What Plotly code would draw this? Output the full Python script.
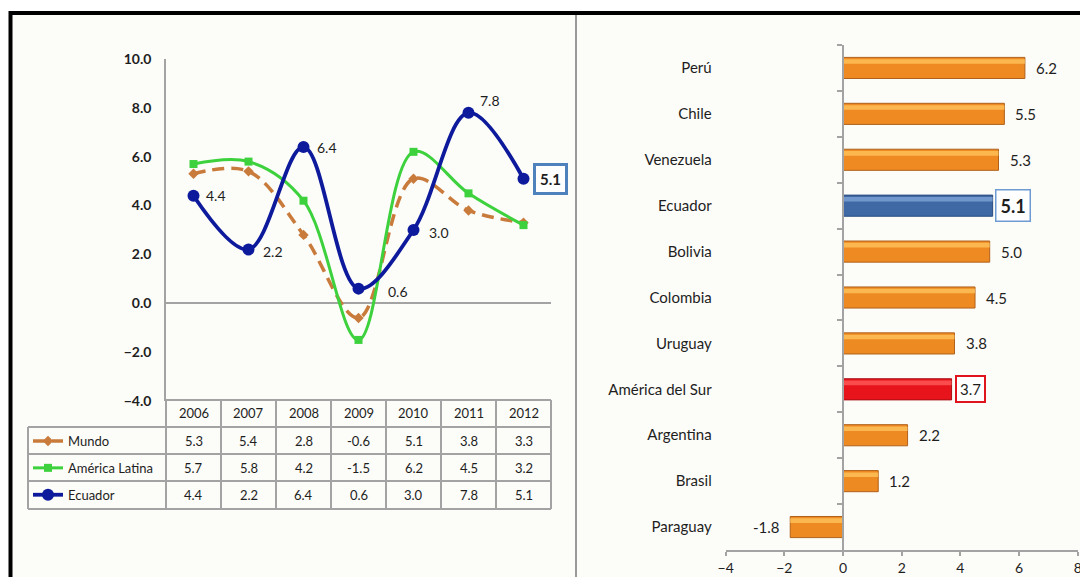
import plotly.graph_objects as go

# ---------------- data ----------------
years = ["2006", "2007", "2008", "2009", "2010", "2011", "2012"]
mundo = [5.3, 5.4, 2.8, -0.6, 5.1, 3.8, 3.3]
america_latina = [5.7, 5.8, 4.2, -1.5, 6.2, 4.5, 3.2]
ecuador = [4.4, 2.2, 6.4, 0.6, 3.0, 7.8, 5.1]
series_names = ["Mundo", "América Latina", "Ecuador"]

countries = ["Perú", "Chile", "Venezuela", "Ecuador", "Bolivia", "Colombia",
             "Uruguay", "América del Sur", "Argentina", "Brasil", "Paraguay"]
growth_2012 = [6.2, 5.5, 5.3, 5.1, 5.0, 4.5, 3.8, 3.7, 2.2, 1.2, -1.8]

left_yticks = [-4, -2, 0, 2, 4, 6, 8, 10]
right_xticks = [-4, -2, 0, 2, 4, 6, 8]

# ---------------- layout helpers ----------------
W, H = 1080, 577
def fx(p):
    return p / W
def fy(p):
    return 1 - p / H

FONT = "Lato, Roboto, Liberation Sans, Arial, sans-serif"
TXT = "#1e1e1e"
GRID = "#a3a3a3"

series_styles = [
    dict(color="#C97B3C", width=3.5, dash="12px,7px", symbol="diamond", size=8),
    dict(color="#3DD23D", width=3, dash="solid", symbol="square", size=8),
    dict(color="#0D1A9C", width=3.8, dash="solid", symbol="circle", size=12),
]
series_values = [mundo, america_latina, ecuador]

fig = go.Figure()

for name, vals, st in zip(series_names, series_values, series_styles):
    fig.add_trace(go.Scatter(
        x=years, y=vals, name=name, mode="lines+markers",
        line=dict(color=st["color"], width=st["width"], dash=st["dash"],
                  shape="spline", smoothing=1.0),
        marker=dict(symbol=st["symbol"], size=st["size"], color=st["color"]),
        xaxis="x", yaxis="y", legendgroup=name, showlegend=True,
        hoverinfo="skip",
    ))

# ---------------- bar chart ----------------
bar_fill = {"Ecuador": "#3F6AA6", "América del Sur": "#E8141C"}
bar_edge = {"Ecuador": "#2B4C7E", "América del Sur": "#A80E12"}
bar_hi = {"Ecuador": "#7FA3D6", "América del Sur": "#FF5A5A"}
fills = [bar_fill.get(c, "#EE8A22") for c in countries]
edges = [bar_edge.get(c, "#B0621C") for c in countries]
his = [bar_hi.get(c, "#FFC35C") for c in countries]

fig.add_trace(go.Bar(
    x=growth_2012, y=countries, orientation="h", xaxis="x2", yaxis="y3",
    marker=dict(color=fills, line=dict(color=edges, width=1)),
    width=0.46, showlegend=False, hoverinfo="skip",
))
fig.add_trace(go.Bar(
    x=growth_2012, y=countries, orientation="h", xaxis="x2", yaxis="y3",
    marker=dict(color=his, line=dict(width=0)), opacity=0.8,
    width=0.1, offset=-0.19, showlegend=False, hoverinfo="skip",
))
# invisible copy carrying the axis drawn at x = 0 (with boundary ticks)
fig.add_trace(go.Bar(
    x=growth_2012, y=countries, orientation="h", xaxis="x2", yaxis="y4",
    marker=dict(color="rgba(0,0,0,0)"), width=0.46,
    showlegend=False, hoverinfo="skip",
))

x2_dom = [fx(725.7), fx(1077.7)]
x2_rng = [right_xticks[0], right_xticks[-1]]
zero_pos = x2_dom[0] + (0 - x2_rng[0]) / (x2_rng[1] - x2_rng[0]) * (x2_dom[1] - x2_dom[0])

annotations = []

# Ecuador labels on line chart
lab_shift = [(10, 0), (12, -2), (11, -1), (27, -3), (13, -2), (9, 12), (9, 0)]
for i, (yr, v) in enumerate(zip(years, ecuador)):
    a = dict(x=i, y=v, xref="x", yref="y", text=f"{v:.1f}", showarrow=False,
             xanchor="left", yanchor="middle", xshift=lab_shift[i][0],
             yshift=lab_shift[i][1], font=dict(family=FONT, size=14, color=TXT))
    if i == len(years) - 1:
        a.update(bordercolor="#4F81BD", borderwidth=3, borderpad=4,
                 bgcolor="#FFFFFF",
                 font=dict(family=FONT, size=15, color=TXT, weight="bold"))
    annotations.append(a)

# bar value labels
for c, v in zip(countries, growth_2012):
    a = dict(x=v, y=c, xref="x2", yref="y3", text=f"{v:.1f}", showarrow=False,
             xanchor="left" if v >= 0 else "right", yanchor="middle",
             xshift=9 if v >= 0 else -8,
             font=dict(family=FONT, size=15, color=TXT))
    if c == "Ecuador":
        a.update(bordercolor="#6F9BD3", borderwidth=1.5, borderpad=4, xshift=2,
                 bgcolor="#FFFFFF",
                 font=dict(family=FONT, size=18, color=TXT, weight="bold"))
    if c == "América del Sur":
        a.update(bordercolor="#E0141C", borderwidth=2, borderpad=3, xshift=3,
                 bgcolor="#FFFFFF", font=dict(family=FONT, size=15, color=TXT))
    annotations.append(a)

# ---------------- data table under the line chart ----------------
tbl_left, tbl_axis, tbl_right = 28, 166, 551
row_edges = [400, 427, 454, 481, 509]
ncol = len(years)
colw = (tbl_right - tbl_axis) / ncol

for i, yr in enumerate(years):
    annotations.append(dict(x=i, y=fy((row_edges[0] + row_edges[1]) / 2), xref="x",
                            yref="paper", yanchor="middle", text=yr, showarrow=False,
                            font=dict(family=FONT, size=13, color=TXT)))
for r, vals in enumerate(series_values):
    yc = fy((row_edges[r + 1] + row_edges[r + 2]) / 2)
    for i, v in enumerate(vals):
        annotations.append(dict(x=i, y=yc, xref="x", yref="paper", yanchor="middle",
                                text=f"{v:.1f}", showarrow=False,
                                font=dict(family=FONT, size=13, color=TXT)))

shapes = []
# page background and frame
shapes.append(dict(type="rect", xref="paper", yref="paper",
                   x0=fx(10.5), x1=fx(1090), y0=fy(590), y1=fy(13),
                   fillcolor="#FCFCF8", line=dict(color="#000000", width=4),
                   layer="below"))
shapes.append(dict(type="line", xref="paper", yref="paper",
                   x0=fx(576), x1=fx(576), y0=fy(15), y1=fy(580),
                   line=dict(color="#9a9a9a", width=2), layer="below"))
# table grid
for k, ry in enumerate(row_edges):
    shapes.append(dict(type="line", xref="paper", yref="paper",
                       x0=fx(tbl_axis if k == 0 else tbl_left), x1=fx(tbl_right),
                       y0=fy(ry), y1=fy(ry), line=dict(color=GRID, width=2)))
shapes.append(dict(type="line", xref="paper", yref="paper",
                   x0=fx(tbl_left), x1=fx(tbl_left), y0=fy(row_edges[1]),
                   y1=fy(row_edges[-1]), line=dict(color=GRID, width=2)))
for j in range(ncol + 1):
    xx = tbl_axis + j * colw
    shapes.append(dict(type="line", xref="paper", yref="paper",
                       x0=fx(xx), x1=fx(xx), y0=fy(row_edges[0]),
                       y1=fy(row_edges[-1]), line=dict(color=GRID, width=2)))

fig.update_layout(
    template="none",
    width=W, height=H, margin=dict(l=0, r=0, t=0, b=0, pad=0, autoexpand=False),
    paper_bgcolor="#FFFFFF", plot_bgcolor="rgba(0,0,0,0)",
    font=dict(family=FONT, color=TXT),
    barmode="overlay",
    showlegend=True,
    legend=dict(x=fx(28), y=fy(426), xanchor="left", yanchor="top",
                bgcolor="rgba(0,0,0,0)", borderwidth=0,
                traceorder="grouped", tracegroupgap=7,
                font=dict(family=FONT, size=13, color=TXT),
                itemclick=False, itemdoubleclick=False),
    xaxis=dict(domain=[fx(tbl_axis), fx(tbl_right)], type="category",
               categoryorder="array", categoryarray=years,
               range=[-0.5, len(years) - 0.5], automargin=False,
               showticklabels=False, showline=False, showgrid=False,
               zeroline=False, ticks="", anchor="y"),
    yaxis=dict(domain=[fy(401), fy(59)], range=[left_yticks[0], left_yticks[-1]],
               tickvals=left_yticks, tickformat=".1f", showgrid=False,
               zeroline=True, zerolinecolor=GRID, zerolinewidth=1.5,
               showline=True, linecolor=GRID, linewidth=1.5, ticks="",
               ticklabelstandoff=10, anchor="x", automargin=False,
               tickfont=dict(family=FONT, size=14, color=TXT, weight="bold")),
    xaxis2=dict(domain=x2_dom, range=x2_rng, tickvals=right_xticks,
                showgrid=False, zeroline=False, showline=True, linecolor=GRID,
                linewidth=1.5, ticks="outside", ticklen=4, tickcolor=GRID,
                tickwidth=1.5, anchor="y3", automargin=False,
                ticklabeloverflow="allow",
                tickfont=dict(family=FONT, size=14, color=TXT)),
    yaxis3=dict(domain=[fy(550), fy(45)], type="category",
                categoryorder="array", categoryarray=countries,
                autorange="reversed", showgrid=False, zeroline=False,
                showline=False, ticks="", ticklabelstandoff=13, anchor="x2",
                automargin=False,
                tickfont=dict(family=FONT, size=15, color=TXT)),
    yaxis4=dict(domain=[fy(550), fy(45)], type="category",
                categoryorder="array", categoryarray=countries,
                autorange="reversed", overlaying="y3", anchor="free",
                position=zero_pos, showgrid=False, zeroline=False,
                showline=True, linecolor=GRID, linewidth=1.5, automargin=False,
                ticks="outside", ticklen=5, tickcolor=GRID, tickwidth=1.5,
                tickson="boundaries", showticklabels=False),
    shapes=shapes,
    annotations=annotations,
)

fig.write_html("out.html")
